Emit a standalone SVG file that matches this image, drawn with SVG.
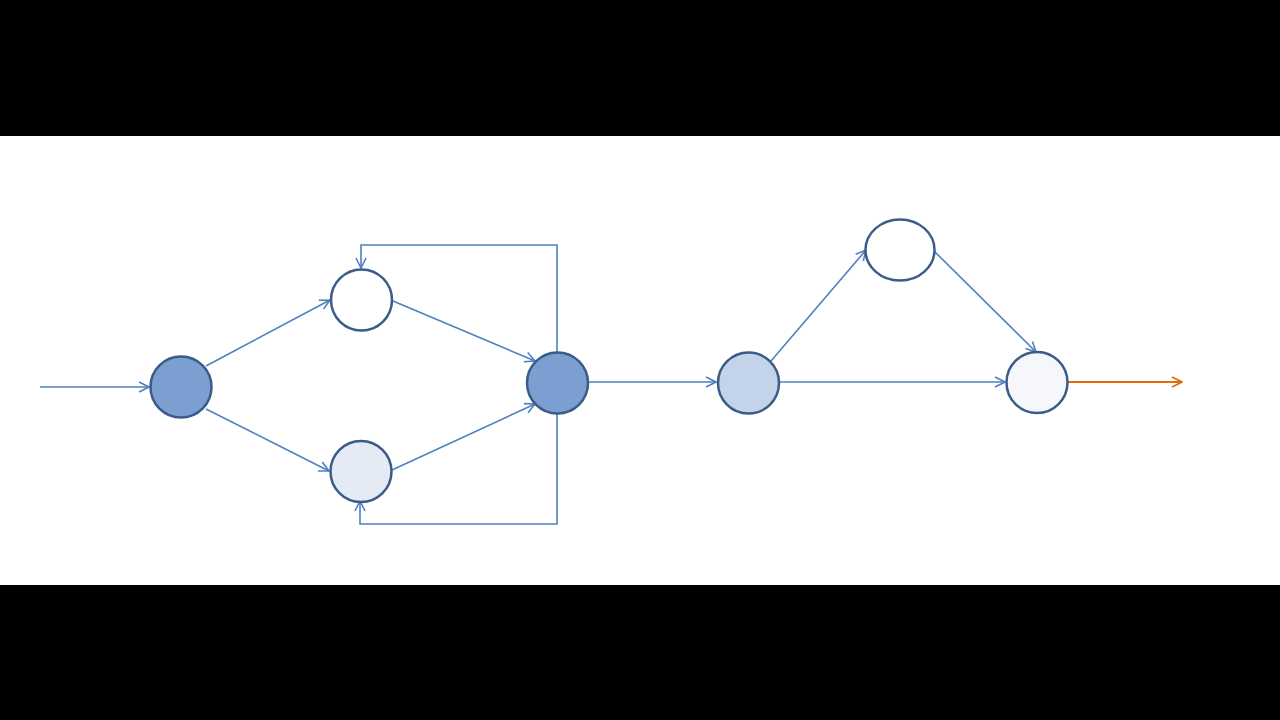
<svg xmlns="http://www.w3.org/2000/svg" width="1280" height="720" viewBox="0 0 1280 720">
<defs>
<style>
.n{stroke:#3b5c88;stroke-width:2.5}
.c{fill:none;stroke:#4f81bd;stroke-width:1.6}
.o{fill:none;stroke:#e36c0a;stroke-width:1.8}
</style>
<marker id="ah" viewBox="0 0 12 12" refX="11" refY="6" markerWidth="12" markerHeight="12" markerUnits="userSpaceOnUse" orient="auto">
<path d="M1,1 L11,6 L1,11" fill="none" stroke="#4f81bd" stroke-width="1.6"/>
</marker>
<marker id="aho" viewBox="0 0 12 12" refX="11" refY="6" markerWidth="12" markerHeight="12" markerUnits="userSpaceOnUse" orient="auto">
<path d="M1,1 L11,6 L1,11" fill="none" stroke="#e36c0a" stroke-width="1.8"/>
</marker>
</defs>
<rect x="0" y="0" width="1280" height="720" fill="#ffffff"/>
<rect x="0" y="0" width="1280" height="136" fill="#000000"/>
<rect x="0" y="585" width="1280" height="135" fill="#000000"/>
<g id="connectors">
<line class="c" x1="40" y1="387" x2="149" y2="387" marker-end="url(#ah)"/>
<line class="c" x1="206" y1="366" x2="330" y2="300" marker-end="url(#ah)"/>
<line class="c" x1="206" y1="409" x2="329" y2="471" marker-end="url(#ah)"/>
<line class="c" x1="393" y1="301" x2="535" y2="361" marker-end="url(#ah)"/>
<line class="c" x1="392" y1="470" x2="535" y2="404" marker-end="url(#ah)"/>
<polyline class="c" points="557,353 557,245 361,245 361,268" marker-end="url(#ah)"/>
<polyline class="c" points="557,413 557,524 360,524 360,501" marker-end="url(#ah)"/>
<line class="c" x1="588" y1="382" x2="716" y2="382" marker-end="url(#ah)"/>
<line class="c" x1="771" y1="361" x2="866" y2="250" marker-end="url(#ah)"/>
<line class="c" x1="935" y1="252" x2="1036" y2="352" marker-end="url(#ah)"/>
<line class="c" x1="780" y1="382" x2="1005" y2="382" marker-end="url(#ah)"/>
<line class="o" x1="1068" y1="382" x2="1182" y2="382" marker-end="url(#aho)"/>
</g>
<g id="nodeA"><circle class="n" cx="181" cy="387" r="30.5" fill="#7a9fd0"/></g>
<g id="nodeB"><circle class="n" cx="361.5" cy="300" r="30.5" fill="#ffffff"/></g>
<g id="nodeC"><circle class="n" cx="361" cy="471.5" r="30.5" fill="#e4ebf5"/></g>
<g id="nodeD"><circle class="n" cx="557.5" cy="383" r="30.5" fill="#7a9fd0"/></g>
<g id="nodeE"><circle class="n" cx="748.5" cy="383" r="30.5" fill="#c2d3ea"/></g>
<g id="nodeF"><ellipse class="n" cx="900" cy="250" rx="34.5" ry="30.5" fill="#ffffff"/></g>
<g id="nodeG"><circle class="n" cx="1037" cy="382.5" r="30.5" fill="#f5f7fb"/></g>
</svg>
